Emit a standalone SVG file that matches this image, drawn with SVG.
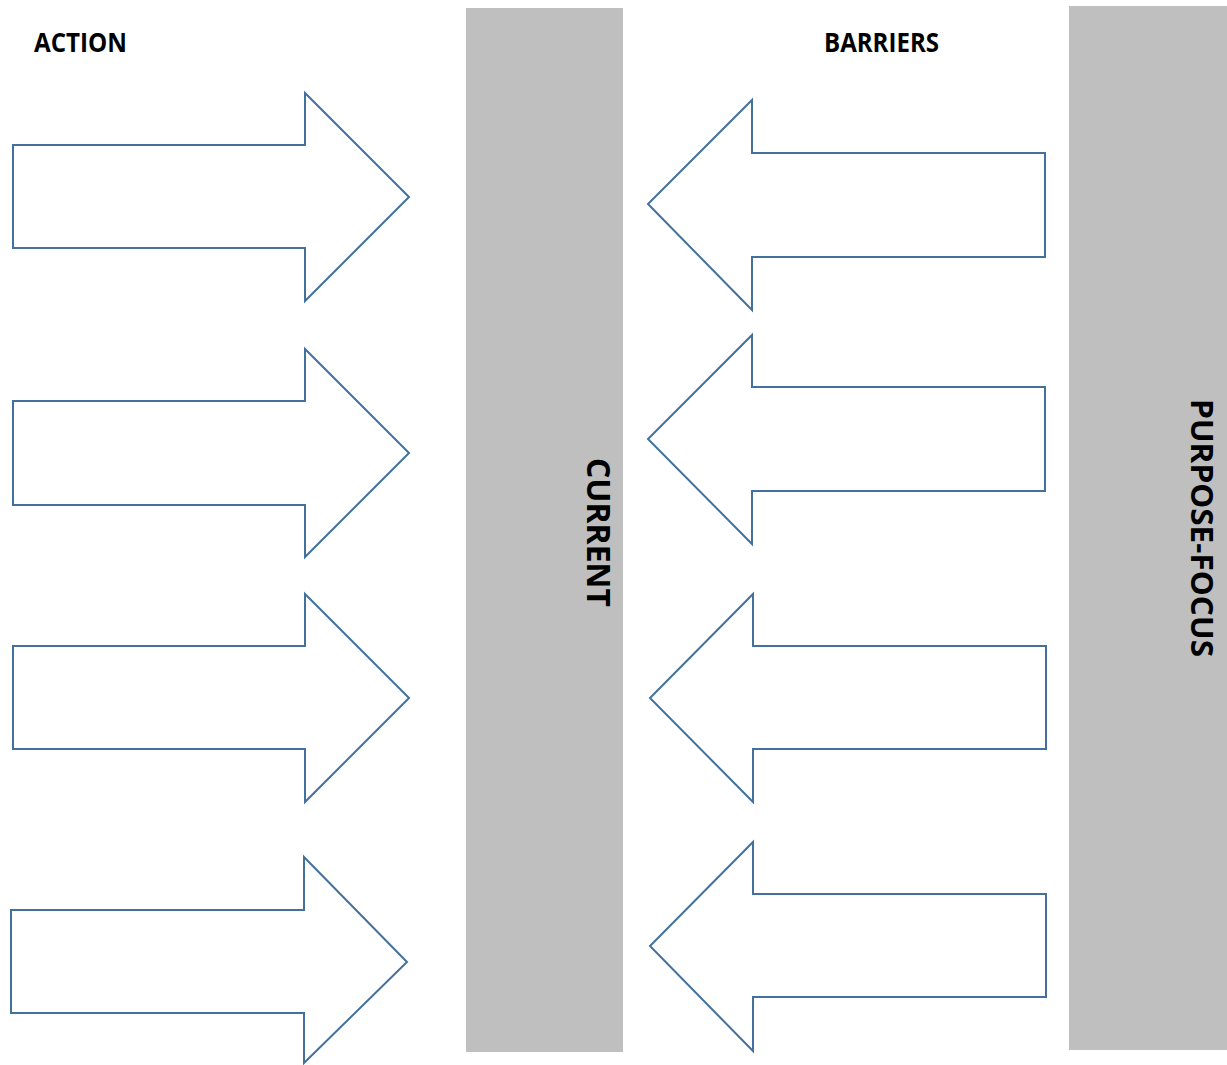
<svg xmlns="http://www.w3.org/2000/svg" width="1227" height="1065" viewBox="0 0 1227 1065">
<style>
.bar{fill:#bfbfbf}
.arrow{fill:#ffffff;stroke:#41719c;stroke-width:2;stroke-linejoin:miter}
.lbl{font-family:"Open Sans","Liberation Sans",sans-serif;font-weight:bold;fill:#000000}
</style>
<rect width="1227" height="1065" fill="#ffffff"/>
<g id="current">
<rect class="bar" x="466" y="8" width="157" height="1044"/>
<text class="lbl" font-size="33" transform="translate(587,458) rotate(90)" textLength="149" lengthAdjust="spacingAndGlyphs">CURRENT</text>
</g>
<g id="purpose-focus">
<rect class="bar" x="1069" y="6" width="158" height="1044"/>
<text class="lbl" font-size="31" transform="translate(1190.5,399) rotate(90)" textLength="258" lengthAdjust="spacingAndGlyphs">PURPOSE-FOCUS</text>
</g>
<g id="action-label"><text class="lbl" x="34" y="52" font-size="26" textLength="93" lengthAdjust="spacingAndGlyphs">ACTION</text></g>
<g id="barriers-label"><text class="lbl" x="824" y="52" font-size="26" textLength="115" lengthAdjust="spacingAndGlyphs">BARRIERS</text></g>
<g id="action-arrows">
<polygon id="a1" class="arrow" points="13,145 305,145 305,93 409,197 305,301 305,248 13,248"/>
<polygon id="a2" class="arrow" points="13,401 305,401 305,349 409,453 305,557 305,505 13,505"/>
<polygon id="a3" class="arrow" points="13,646 305,646 305,594 409,698 305,802 305,749 13,749"/>
<polygon id="a4" class="arrow" points="11,910 304,910 304,857 407,962 304,1063 304,1013 11,1013"/>
</g>
<g id="barrier-arrows">
<polygon id="b1" class="arrow" points="1045,153 752,153 752,100 648,204 752,310 752,257 1045,257"/>
<polygon id="b2" class="arrow" points="1045,387 752,387 752,335 648,439 752,544 752,491 1045,491"/>
<polygon id="b3" class="arrow" points="1046,646 753,646 753,594 650,698 753,802 753,749 1046,749"/>
<polygon id="b4" class="arrow" points="1046,894 753,894 753,842 650,946 753,1051 753,997 1046,997"/>
</g>
</svg>
